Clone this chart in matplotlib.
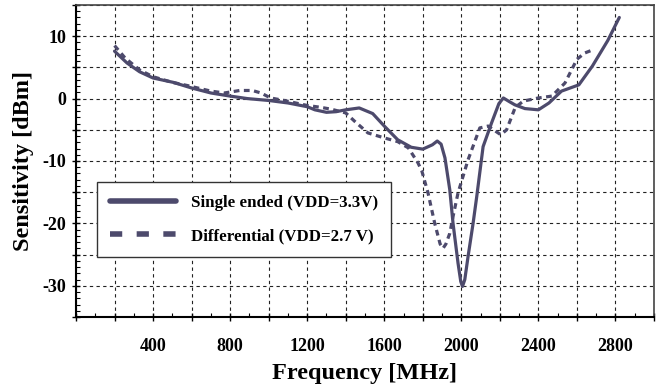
import numpy as np
import matplotlib
matplotlib.use("Agg")
import matplotlib.pyplot as plt
from matplotlib.ticker import MultipleLocator, FuncFormatter
from matplotlib.lines import Line2D

# 单端 (VDD=3.3V)
freq_se = [200, 265, 330, 400, 505, 600, 700, 800, 890, 1000, 1100, 1200, 1240,
           1300, 1350, 1400, 1470, 1540, 1600, 1670, 1740, 1800, 1850, 1875, 1895,
           1915, 1940, 1957, 1983, 1997, 2006, 2018, 2035, 2061, 2080, 2113, 2157,
           2195, 2218, 2250, 2278, 2330, 2400, 2455, 2520, 2610, 2680, 2760, 2820]
sens_se = [7.6, 5.7, 4.3, 3.3, 2.6, 1.7, 0.9, 0.4, 0.0, -0.3, -0.7, -1.3, -1.8,
           -2.2, -2.1, -1.8, -1.5, -2.4, -4.4, -6.6, -7.8, -8.1, -7.4, -6.8, -7.3,
           -9.5, -14.6, -20.0, -26.4, -29.3, -30.1, -29.0, -25.3, -20.0, -15.7, -7.7, -3.9,
           -0.8, 0.1, -0.5, -1.0, -1.6, -1.8, -0.7, 1.2, 2.2, 5.2, 9.3, 13.0]

# 差分 (VDD=2.7 V)
freq_df = [200, 255, 330, 400, 500, 577, 700, 770, 850, 915, 960, 1010, 1080,
           1200, 1270, 1325, 1400, 1445, 1515, 1600, 1670, 1725, 1775, 1795,
           1827, 1862, 1890, 1905, 1920, 1940, 1957, 1983, 2035, 2096, 2139, 2205, 2235,
           2280, 2322, 2400, 2470, 2538, 2600, 2640, 2690]
sens_df = [8.5, 6.5, 4.6, 3.5, 2.6, 2.1, 1.2, 0.9, 1.3, 1.3, 0.9, 0.1, -0.3,
           -1.1, -1.4, -1.7, -2.3, -3.6, -5.5, -6.3, -6.9, -7.9, -10.3, -11.6,
           -15.1, -20.0, -23.3, -24.0, -23.3, -21.6, -18.9, -15.1, -9.8, -4.7, -4.4, -5.8, -5.0,
           -1.4, -0.4, 0.1, 0.4, 2.5, 6.3, 7.3, 7.9]

labels = ['Single ended (VDD=3.3V)', 'Differential (VDD=2.7 V)']

line_color = '#4d4a6c'
serif = ['Liberation Serif', 'DejaVu Serif']

fig = plt.figure(figsize=(6.62, 3.9), dpi=100)
ax = fig.add_axes([0.1148, 0.1872, 0.8731, 0.8000])

ax.plot(freq_se, sens_se, color=line_color, lw=2.3, solid_capstyle='round',
        solid_joinstyle='round')
ax.plot(freq_df, sens_df, color=line_color, lw=2.3, linestyle=(0, (1.8, 1.4)))

ax.set_xlim(0, 3000)
ax.set_ylim(-35, 15)

ax.xaxis.set_major_locator(MultipleLocator(200))
ax.xaxis.set_minor_locator(MultipleLocator(100))
ax.yaxis.set_major_locator(MultipleLocator(5))
ax.yaxis.set_minor_locator(MultipleLocator(1))
ax.xaxis.set_major_formatter(FuncFormatter(
    lambda v, p: '%d' % v if v % 400 == 0 and 0 < v < 3000 else ''))
ax.yaxis.set_major_formatter(FuncFormatter(
    lambda v, p: '%d' % v if v % 10 == 0 and -35 < v < 15 else ''))

ax.grid(True, which='major', color='#222222', lw=0.8, linestyle=(0, (3, 3)))

ax.tick_params(axis='both', which='major', direction='inout', length=6, width=1,
               labelsize=13)
ax.tick_params(axis='both', which='minor', direction='in', length=3, width=0.8)
ax.tick_params(axis='x', which='major', pad=12)
ax.tick_params(axis='y', which='major', pad=4)
for lab in ax.get_xticklabels() + ax.get_yticklabels():
    lab.set_fontfamily(serif)
    lab.set_fontweight('bold')

for side in ['left', 'bottom']:
    ax.spines[side].set_linewidth(1.5)
for side in ['top', 'right']:
    ax.spines[side].set_linewidth(1.2)
    ax.spines[side].set_color('#444444')

ax.set_xlabel('Frequency [MHz]', fontsize=17.5, fontweight='bold',
              family=serif, labelpad=6)
ax.set_ylabel('Sensitivity [dBm]', fontsize=17.5, fontweight='bold',
              family=serif, labelpad=6)

handles = [Line2D([], [], color=line_color, lw=4, solid_capstyle='round'),
           Line2D([], [], color=line_color, lw=4, linestyle=(0, (2.2, 2.6)))]
leg = ax.legend(handles, labels, loc='lower left',
                bbox_to_anchor=(0.036, 0.192), borderaxespad=0,
                prop={'family': serif, 'weight': 'bold', 'size': 12.2},
                frameon=True, fancybox=False, framealpha=1,
                edgecolor='#333333', handlelength=3.9, handletextpad=0.9,
                labelspacing=1.05, borderpad=0.75)
leg.get_frame().set_linewidth(1.0)

fig.savefig('out.png', dpi=100)
